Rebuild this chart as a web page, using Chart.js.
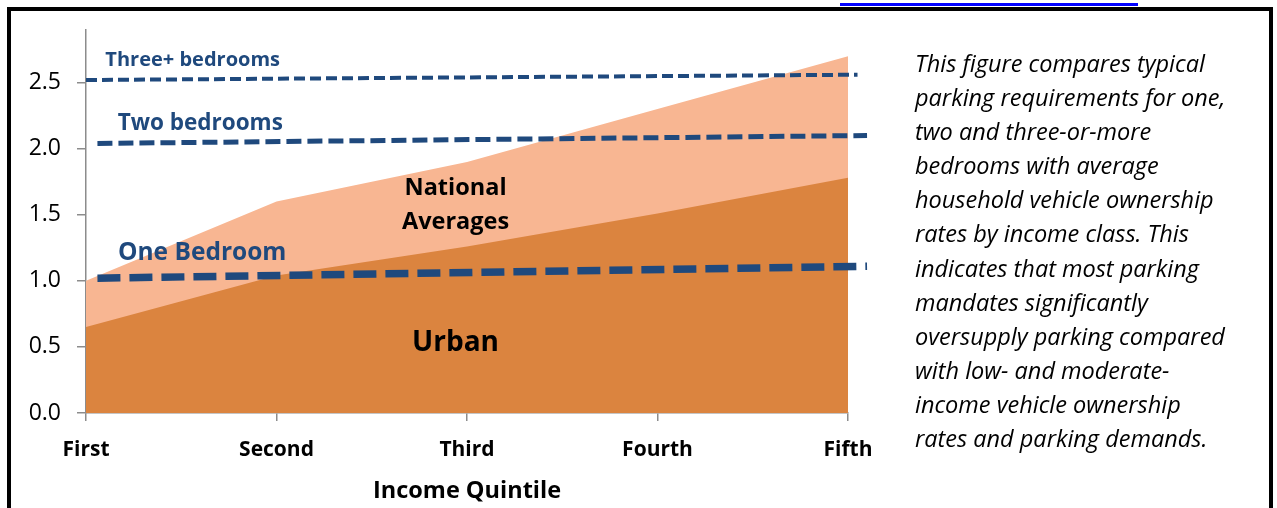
<!DOCTYPE html>
<html>
<head>
<meta charset="utf-8">
<script src="https://cdn.jsdelivr.net/npm/chart.js@4.4.1/dist/chart.umd.min.js"></script>
<style>
  html, body { margin: 0; padding: 0; background: #fff; }
  #wrap { position: relative; width: 1277px; height: 508px; overflow: hidden; }
  #frame {
    position: absolute; left: 7px; top: 6.5px; width: 1266px; height: 540px;
    border: 4px solid #000; box-sizing: border-box;
  }
  #linkbar { position: absolute; left: 840px; top: 3px; width: 298px; height: 3px; background: #0000ff; }
  #chartBox { position: absolute; left: 0; top: 0; width: 1277px; height: 508px; }
  #note {
    position: absolute; left: 915px; top: 46px; width: 352px;
    font-family: "Open Sans", sans-serif; font-style: italic; white-space: nowrap;
    font-size: 23.5px; line-height: 34.1px; color: #000;
  }
</style>
</head>
<body>
<div id="wrap">
  <div id="linkbar"></div>
  <div id="frame"></div>
  <div id="chartBox"><canvas id="myChart"></canvas></div>
  <div id="note">This figure compares typical<br>parking requirements for one,<br>two and three-or-more<br>bedrooms with average<br>household vehicle ownership<br>rates by income class. This<br>indicates that most parking<br>mandates significantly<br>oversupply parking compared<br>with low- and moderate-<br>income vehicle ownership<br>rates and parking demands.</div>
</div>
<script>
const quintiles = ["First", "Second", "Third", "Fourth", "Fifth"];
const nationalAvg = [1.0, 1.6, 1.9, 2.3, 2.7];
const urbanAvg = [0.65, 1.04, 1.26, 1.51, 1.78];

// parking requirement lines (x in quintile units, y in spaces)
const threeBedX = [0, 4.05];
const threeBedY = [2.52, 2.56];
const twoBedX = [0.06, 4.1];
const twoBedY = [2.04, 2.1];
const oneBedX = [0.06, 4.1];
const oneBedY = [1.02, 1.11];

const yMax = 2.9;
const yStep = 0.5;

const blue = "#1F497D";
const axisGray = "#8c8c8c";
const fontFamily = "'Open Sans', sans-serif";

const toPoints = (xs, ys) => xs.map((x, i) => ({ x: x, y: ys[i] }));

// text drawn inside the plot, placed in data units
const plotLabels = [
  { text: "Three+ bedrooms", x: 0.56, y: 2.67, size: 20, color: blue },
  { text: "Two bedrooms", x: 0.6, y: 2.19, size: 22.5, color: blue },
  { text: "One Bedroom", x: 0.61, y: 1.21, size: 24.5, color: blue },
  { text: "National", x: 1.94, y: 1.7, size: 23.5, color: "#000" },
  { text: "Averages", x: 1.94, y: 1.44, size: 23.5, color: "#000" },
  { text: "Urban", x: 1.94, y: 0.53, size: 28, color: "#000" },
];

const labelPlugin = {
  id: "plotLabels",
  afterDatasetsDraw(chart) {
    const ctx = chart.ctx;
    const xs = chart.scales.x;
    const ys = chart.scales.y;
    ctx.save();
    ctx.textAlign = "center";
    ctx.textBaseline = "middle";
    plotLabels.forEach((l) => {
      ctx.font = "bold " + l.size + "px " + fontFamily;
      ctx.fillStyle = l.color;
      ctx.fillText(l.text, xs.getPixelForValue(l.x), ys.getPixelForValue(l.y));
    });
    ctx.restore();
  },
};

const areaSet = (label, values, color, order) => ({
  label: label,
  data: values.map((v, i) => ({ x: i, y: v })),
  backgroundColor: color,
  borderColor: "transparent",
  borderWidth: 0,
  pointRadius: 0,
  fill: "origin",
  tension: 0,
  order: order,
});

const dashSet = (label, xs, ys, width, dash) => ({
  label: label,
  data: toPoints(xs, ys),
  borderColor: blue,
  borderWidth: width,
  borderDash: dash,
  pointRadius: 0,
  fill: false,
  clip: false,
  order: 1,
});

const ctx = document.getElementById("myChart").getContext("2d");
const myChart = new Chart(ctx, {
  type: "line",
  data: {
    datasets: [
      dashSet("Three+ bedrooms", threeBedX, threeBedY, 4, [11, 5]),
      dashSet("Two bedrooms", twoBedX, twoBedY, 5, [15, 6]),
      dashSet("One Bedroom", oneBedX, oneBedY, 7.5, [23, 9]),
      areaSet("Urban", urbanAvg, "#DB843F", 2),
      areaSet("National Averages", nationalAvg, "#F8B692", 3),
    ],
  },
  options: {
    responsive: true,
    maintainAspectRatio: false,
    animation: false,
    layout: { padding: { top: 27, right: 429, left: 0, bottom: 0 } },
    plugins: {
      legend: { display: false },
      tooltip: { enabled: false },
    },
    scales: {
      x: {
        type: "linear",
        min: 0,
        max: quintiles.length - 1,
        afterFit: (scale) => { scale.height = 95; },
        ticks: {
          stepSize: 1,
          padding: 16,
          color: "#000",
          font: { family: fontFamily, size: 21, weight: "bold" },
          callback: (v) => quintiles[v],
          maxRotation: 0,
        },
        grid: { drawOnChartArea: false, tickLength: 8, color: axisGray, lineWidth: 1.5 },
        border: { color: axisGray, width: 1.5 },
        title: {
          display: true,
          text: "Income Quintile",
          color: "#000",
          font: { family: fontFamily, size: 23.5, weight: "bold" },
          padding: { top: 0, bottom: 3 },
        },
      },
      y: {
        min: 0,
        max: yMax,
        afterFit: (scale) => { scale.width = 86; },
        ticks: {
          stepSize: yStep,
          includeBounds: false,
          padding: 16,
          color: "#000",
          font: { family: fontFamily, size: 23 },
          callback: (v) => v.toFixed(1),
        },
        grid: { drawOnChartArea: false, tickLength: 9, color: axisGray, lineWidth: 1.5 },
        border: { color: axisGray, width: 1.5 },
      },
    },
  },
  plugins: [labelPlugin],
});
</script>
</body>
</html>
